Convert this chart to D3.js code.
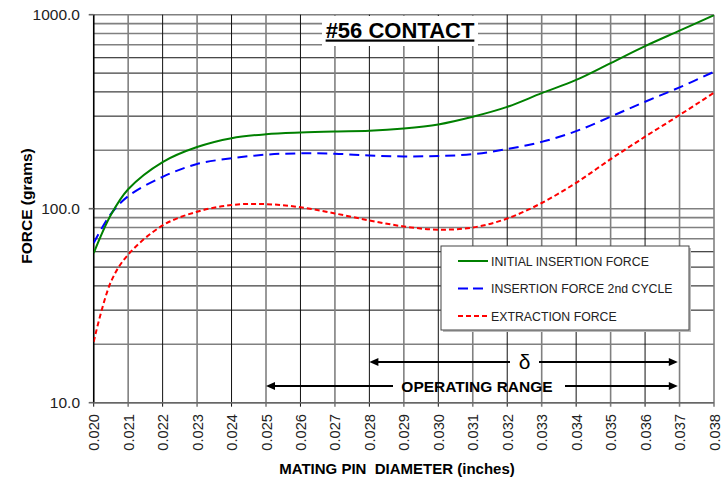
<!DOCTYPE html>
<html>
<head>
<meta charset="utf-8">
<script src="https://cdn.jsdelivr.net/npm/d3@7"></script>
<style>
  body { margin: 0; background: #fff; }
  text { font-family: Arial, "Liberation Sans", sans-serif; }
</style>
</head>
<body>
<svg id="chart" width="727" height="478"></svg>
<script>
const diameters = [0.020, 0.0205, 0.021, 0.022, 0.023, 0.024, 0.025, 0.026, 0.027, 0.028, 0.029,
  0.030, 0.031, 0.032, 0.033, 0.034, 0.035, 0.036, 0.037, 0.038]
const initialInsertion = [59, 93, 126, 174, 208, 231, 242, 247, 250, 252, 259,
  272, 298, 335, 394, 461, 563, 689, 828, 995]
const secondCycle = [66.5, 94, 116, 146, 170, 182, 190, 193, 192, 188, 186,
  187, 191, 203, 221, 251, 298, 356, 422, 508]
const extraction = [20.6, 42, 58, 82, 96.5, 104.5, 105.6, 101.7, 94.5, 87, 81,
  78, 80, 89, 107, 136, 180, 235, 304, 396]
const xTicks = d3.range(20, 39).map(d => d / 1000)
const yTicks = [10, 100, 1000]
const seriesNames = ['INITIAL INSERTION FORCE', 'INSERTION FORCE 2nd CYCLE', 'EXTRACTION FORCE']
const operatingRange = [0.025, 0.03695]
const deltaRange = [0.028, 0.03695]

const svg = d3.select('#chart')
const plotLeft = 93.7
const plotRight = 714
const plotTop = 14.7
const plotBottom = 402.7

const x = d3.scaleLinear().domain([0.020, 0.038]).range([plotLeft, plotRight])
const y = d3.scaleLog().domain([10, 1000]).range([plotBottom, plotTop])

// which multiple of the decade a grid value is
function mult (d) {
  return Math.round(d / Math.pow(10, Math.floor(Math.log10(d) + 1e-9)))
}

// horizontal grid
const minors = []
for (let dec = 10; dec < 1000; dec *= 10) {
  for (let m = 1; m < 10; m++) minors.push(dec * m)
}
minors.push(1000)
svg.append('g').selectAll('line').data(minors).enter().append('line')
  .attr('x1', plotLeft).attr('x2', plotRight)
  .attr('y1', d => y(d)).attr('y2', d => y(d))
  .attr('stroke', d => (mult(d) >= 3 && mult(d) <= 6) ? '#111' : '#808080')
  .attr('stroke-width', d => (mult(d) >= 3 && mult(d) <= 6) ? 1 : 1.6)

// vertical grid
svg.append('g').selectAll('line').data(xTicks).enter().append('line')
  .attr('x1', d => x(d)).attr('x2', d => x(d))
  .attr('y1', plotTop).attr('y2', plotBottom + 4)
  .attr('stroke', (d, i) => (i % 2 === 0 && i < 18) ? '#111' : '#808080')
  .attr('stroke-width', (d, i) => (i % 2 === 0 && i < 18) ? 1 : 1.6)

// axis lines and y ticks
svg.append('line').attr('x1', plotLeft).attr('x2', plotLeft).attr('y1', plotTop).attr('y2', plotBottom)
  .attr('stroke', '#000').attr('stroke-width', 1.5)
svg.append('line').attr('x1', plotLeft).attr('x2', plotRight).attr('y1', plotBottom).attr('y2', plotBottom)
  .attr('stroke', '#666').attr('stroke-width', 1.6)
svg.append('g').selectAll('line').data(yTicks).enter().append('line')
  .attr('x1', plotLeft - 5).attr('x2', plotLeft)
  .attr('y1', d => y(d)).attr('y2', d => y(d))
  .attr('stroke', '#666').attr('stroke-width', 1.6)

svg.append('g').selectAll('text').data(yTicks).enter().append('text')
  .attr('x', 80).attr('y', d => y(d) + 5.5)
  .attr('text-anchor', 'end')
  .attr('font-size', 15.5).attr('fill', '#222')
  .text(d => d3.format('.1f')(d))

svg.append('g').selectAll('text').data(xTicks).enter().append('text')
  .attr('transform', d => `translate(${x(d) + 5.5},${414}) rotate(-90)`)
  .attr('text-anchor', 'end')
  .attr('font-size', 14.7).attr('fill', '#222')
  .text(d => d3.format('.3f')(d))

// axis titles
svg.append('text')
  .attr('transform', 'translate(31.5,206) rotate(-90)')
  .attr('text-anchor', 'middle')
  .attr('font-size', 15.5).attr('font-weight', 'bold')
  .text('FORCE (grams)')
svg.append('text')
  .attr('x', 397).attr('y', 474)
  .attr('text-anchor', 'middle')
  .attr('font-size', 15).attr('font-weight', 'bold')
  .style('white-space', 'pre')
  .text('MATING PIN  DIAMETER (inches)')

// curves
svg.append('clipPath').attr('id', 'plotclip').append('rect')
  .attr('x', plotLeft).attr('y', plotTop).attr('width', plotRight - plotLeft).attr('height', plotBottom - plotTop)

const series = [
  { name: seriesNames[0], values: initialInsertion, color: '#008000', dash: null },
  { name: seriesNames[1], values: secondCycle, color: '#0000ff', dash: '10,6' },
  { name: seriesNames[2], values: extraction, color: '#ff0000', dash: '5,3' }
]
const line = d3.line()
  .x(d => x(d[0])).y(d => y(d[1]))
  .curve(d3.curveCatmullRom.alpha(0.5))
const curves = svg.append('g').attr('clip-path', 'url(#plotclip)')
series.slice().reverse().forEach(s => {
  curves.append('path')
    .datum(diameters.map((dm, i) => [dm, s.values[i]]))
    .attr('d', line)
    .attr('fill', 'none')
    .attr('stroke', s.color)
    .attr('stroke-width', 2)
    .attr('stroke-dasharray', s.dash)
})

// title
svg.append('rect').attr('x', 322).attr('y', 16).attr('width', 156).attr('height', 30).attr('fill', '#fff')
svg.append('text')
  .attr('x', 400).attr('y', 37.5)
  .attr('text-anchor', 'middle')
  .attr('font-size', 22).attr('font-weight', 'bold')
  .attr('text-decoration', 'underline')
  .text('#56 CONTACT')

// legend
const legend = svg.append('g').attr('transform', 'translate(441,246)')
legend.append('rect').attr('x', 2).attr('y', 2).attr('width', 248).attr('height', 84).attr('fill', '#bbb')
legend.append('rect').attr('width', 248).attr('height', 84)
  .attr('fill', '#fff').attr('stroke', '#444').attr('stroke-width', 1)
series.forEach((s, i) => {
  const ly = 15 + i * 27.5
  legend.append('line')
    .attr('x1', 17).attr('x2', 47).attr('y1', ly).attr('y2', ly)
    .attr('stroke', s.color).attr('stroke-width', 2)
    .attr('stroke-dasharray', i === 1 ? '10,5' : (i === 2 ? '5,3' : null))
  legend.append('text')
    .attr('x', 50).attr('y', ly + 4.5)
    .attr('font-size', 12.3).attr('fill', '#222')
    .text(s.name)
})

// range arrows
function arrow (x0, x1, yy, gap0, gap1) {
  const g = svg.append('g')
  g.append('line').attr('x1', x(x0) + 6).attr('x2', gap0).attr('y1', yy).attr('y2', yy)
    .attr('stroke', '#000').attr('stroke-width', 2)
  g.append('line').attr('x1', gap1).attr('x2', x(x1) - 6).attr('y1', yy).attr('y2', yy)
    .attr('stroke', '#000').attr('stroke-width', 2)
  g.append('path')
    .attr('d', `M${x(x0)},${yy}l9,-4v8z`).attr('fill', '#000')
  g.append('path')
    .attr('d', `M${x(x1)},${yy}l-9,-4v8z`).attr('fill', '#000')
}
arrow(deltaRange[0], deltaRange[1], 362, 510, 539)
svg.append('text')
  .attr('x', 524.5).attr('y', 369)
  .attr('text-anchor', 'middle')
  .attr('font-family', '"Liberation Serif", "DejaVu Serif", serif')
  .attr('font-size', 21)
  .text('δ')
arrow(operatingRange[0], operatingRange[1], 386, 393, 565)
svg.append('text')
  .attr('x', 477).attr('y', 391.5)
  .attr('text-anchor', 'middle')
  .attr('font-size', 15.5).attr('font-weight', 'bold')
  .text('OPERATING RANGE')
</script>
</body>
</html>
